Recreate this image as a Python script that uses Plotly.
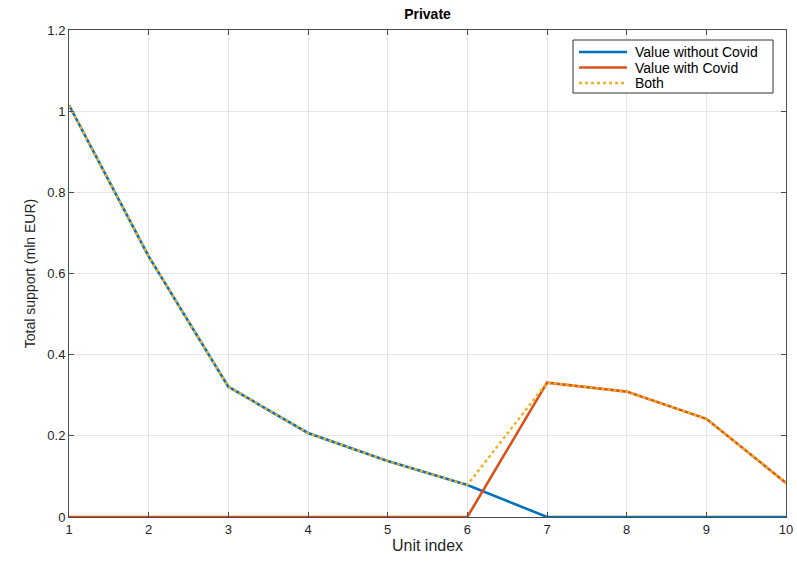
import plotly.graph_objects as go

# Unit indices and support values (mln EUR)
units = [1, 2, 3, 4, 5, 6, 7, 8, 9, 10]
value_without_covid = [1.015, 0.642, 0.321, 0.207, 0.138, 0.079, 0.0, 0.0, 0.0, 0.0]
value_with_covid = [0.0, 0.0, 0.0, 0.0, 0.0, 0.0, 0.331, 0.309, 0.242, 0.084]
both = [1.015, 0.642, 0.321, 0.207, 0.138, 0.079, 0.331, 0.309, 0.242, 0.084]

series_names = ["Value without Covid", "Value with Covid", "Both"]
series_colors = ["#0072BD", "#D95319", "#EDB120"]
series_dash = ["solid", "solid", "dot"]

x_ticks = [1, 2, 3, 4, 5, 6, 7, 8, 9, 10]
y_ticks = [0, 0.2, 0.4, 0.6, 0.8, 1, 1.2]
y_tick_labels = ["0", "0.2", "0.4", "0.6", "0.8", "1", "1.2"]

FONT = "Liberation Sans, Arial, Helvetica, sans-serif"
AXIS_COLOR = "#4d4d4d"
W, H = 797, 561
ML, MR, MT, MB = 69, 11, 30, 44

fig = go.Figure()
for ys, name, color, dash, width in zip(
        [value_without_covid, value_with_covid, both],
        series_names, series_colors, series_dash, [2.6, 2.6, 2.4]):
    fig.add_trace(go.Scatter(
        x=units, y=ys, mode="lines", name=name, showlegend=False,
        line=dict(color=color, width=width, dash=dash),
    ))

axis_common = dict(
    showline=True, linecolor=AXIS_COLOR, linewidth=1, mirror="ticks",
    ticks="inside", ticklen=5, tickcolor=AXIS_COLOR,
    showgrid=True, gridcolor="#e6e6e6", gridwidth=1, automargin=False,
    zeroline=False, tickfont=dict(family=FONT, size=13, color="#262626"),
)

# Legend box drawn in paper coordinates (pixel positions converted)
pw, ph = W - ML - MR, H - MT - MB


def px(xp):
    return (xp - ML) / pw


def py(yp):
    return 1 - (yp - MT) / ph


shapes = [dict(type="rect", xref="paper", yref="paper",
               x0=px(573), x1=px(773), y0=py(93), y1=py(40),
               line=dict(color="#333333", width=1), fillcolor="white", layer="above")]
annotations = []
for i, (name, color, dash) in enumerate(zip(series_names, series_colors, series_dash)):
    yy = 52 + i * 15.5
    shapes.append(dict(type="line", xref="paper", yref="paper",
                       x0=px(579), x1=px(627), y0=py(yy), y1=py(yy),
                       line=dict(color=color, width=2.4, dash=dash), layer="above"))
    annotations.append(dict(x=px(633), y=py(yy), xref="paper", yref="paper",
                            text=name, showarrow=False, xanchor="left", yanchor="middle",
                            font=dict(family=FONT, size=14, color="black")))

fig.update_layout(
    width=W, height=H,
    margin=dict(l=ML, r=MR, t=MT, b=MB),
    paper_bgcolor="white", plot_bgcolor="white",
    title=dict(text="<b>Private</b>", x=0.5, xref="paper", xanchor="center",
               y=0.975, yref="container", yanchor="middle",
               font=dict(family=FONT, size=14, color="black")),
    xaxis=dict(range=[1, 10], tickvals=x_ticks,
               title=dict(text="Unit index", standoff=4,
                          font=dict(family=FONT, size=16, color="#262626")),
               **axis_common),
    yaxis=dict(range=[0, 1.2], tickvals=y_ticks, ticktext=y_tick_labels,
               title=dict(text="Total support (mln EUR)", standoff=8,
                          font=dict(family=FONT, size=14, color="#262626")),
               **axis_common),
    shapes=shapes,
    annotations=annotations,
    showlegend=False,
)

fig.write_html("out.html")
